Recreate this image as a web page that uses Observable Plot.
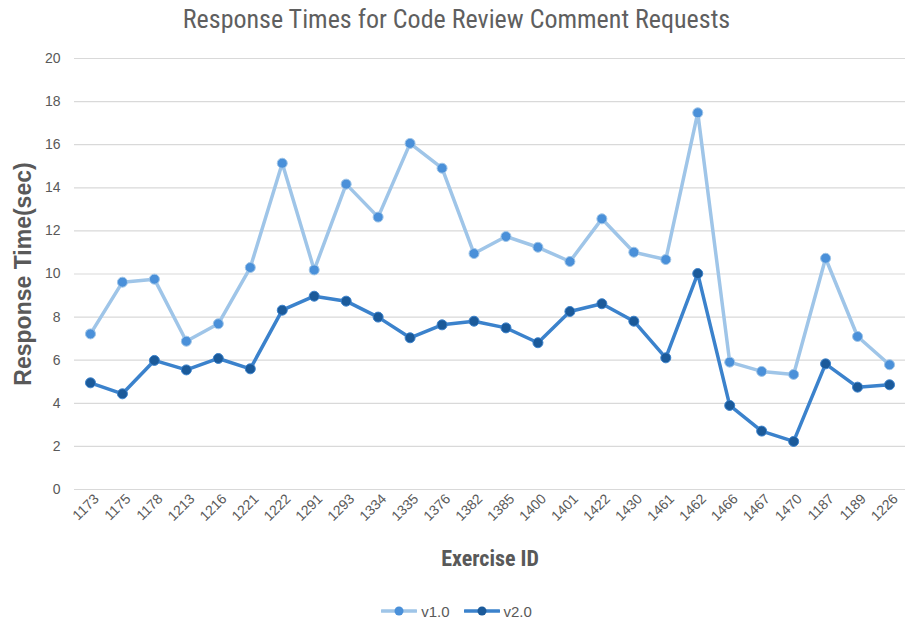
<!DOCTYPE html>
<html>
<head>
<meta charset="utf-8">
<script src="https://cdn.jsdelivr.net/npm/d3@7"></script>
<script src="https://cdn.jsdelivr.net/npm/@observablehq/plot@0.6"></script>
<style>
  html, body { margin: 0; padding: 0; background: #fff; }
  body { width: 913px; height: 631px; overflow: hidden; font-family: "Liberation Sans", Arial, sans-serif; }
  #title { height: 38px; line-height: 38px; text-align: center; font-family: "Liberation Sans Narrow", "Roboto Condensed", Roboto, sans-serif; font-size: 26px; color: #5f5f5f; font-stretch: condensed; }
  #chart svg { display: block; }
  #chart [aria-label="y-axis label"] text { font-size: 23px; font-weight: bold; fill: #595959; font-family: "Liberation Sans", Arial, sans-serif; }
  #chart [aria-label="x-axis label"] text { font-size: 22px; font-weight: bold; fill: #595959; font-family: "Liberation Sans Narrow", "Roboto Condensed", Roboto, sans-serif; }
  #legend { height: 40px; padding-top: 16px; display: flex; justify-content: center; align-items: center; gap: 14px; font-size: 15px; color: #595959; }
  .item { display: flex; align-items: center; gap: 4px; }
</style>
</head>
<body>
<div id="title">Response Times for Code Review Comment Requests</div>
<div id="chart"></div>
<div id="legend"></div>
<script>
const exerciseIds = ["1173","1175","1178","1213","1216","1221","1222","1291","1293","1334","1335","1376","1382","1385","1400","1401","1422","1430","1461","1462","1466","1467","1470","1187","1189","1226"];
const v1Values = [7.22,9.62,9.76,6.88,7.69,10.30,15.14,10.19,14.17,12.64,16.06,14.91,10.95,11.74,11.24,10.58,12.56,11.01,10.67,17.48,5.91,5.48,5.34,10.73,7.10,5.79];
const v2Values = [4.95,4.44,5.99,5.55,6.08,5.60,8.32,8.97,8.74,8.00,7.04,7.64,7.81,7.50,6.81,8.26,8.62,7.81,6.11,10.02,3.90,2.71,2.23,5.83,4.75,4.86];
const seriesNames = ["v1.0", "v2.0"];
const yTicks = [0,2,4,6,8,10,12,14,16,18,20];

const lineColors = {"v1.0": "#9fc5e8", "v2.0": "#3b82cc"};
const dotColors = {"v1.0": "#4a90d9", "v2.0": "#1b5a9a"};

const rows = [];
seriesNames.forEach((s, si) => {
  const vals = si === 0 ? v1Values : v2Values;
  exerciseIds.forEach((id, i) => rows.push({id, value: vals[i], series: s}));
});

const chart = Plot.plot({
  width: 913,
  height: 537,
  marginTop: 20,
  marginBottom: 86,
  marginLeft: 74,
  marginRight: 8,
  style: {fontFamily: "'Liberation Sans', Arial, sans-serif", fontSize: "14px", color: "#595959", background: "#fff"},
  x: {type: "point", domain: exerciseIds, padding: 0.5, round: false},
  y: {domain: [0, 20]},
  marks: [
    Plot.ruleY(yTicks, {stroke: "#d9d9d9", strokeWidth: 1.2}),
    Plot.axisY({ticks: yTicks, tickSize: 0, tickPadding: 14, fontSize: 14, label: "Response Time(sec)", labelAnchor: "center", labelOffset: 60, labelArrow: "none"}),
    Plot.axisX({tickSize: 0, tickPadding: 7, tickRotate: -45, fontSize: 14, label: "Exercise ID", labelAnchor: "center", labelOffset: 76, labelArrow: "none", dx: 6}),
    ...seriesNames.map(s => Plot.line(rows.filter(r => r.series === s), {x: "id", y: "value", stroke: lineColors[s], strokeWidth: 3.5, strokeLinejoin: "round", strokeLinecap: "round"})),
    ...seriesNames.map(s => Plot.dot(rows.filter(r => r.series === s), {x: "id", y: "value", fill: dotColors[s], stroke: lineColors[s], strokeWidth: 1, r: 5}))
  ]
});
document.getElementById("chart").appendChild(chart);

const legend = document.getElementById("legend");
seriesNames.forEach(s => {
  const item = document.createElement("div");
  item.className = "item";
  item.innerHTML = `<svg width="36" height="12"><line x1="1" y1="6" x2="35" y2="6" stroke="${lineColors[s]}" stroke-width="3.5" stroke-linecap="round"/><circle cx="18" cy="6" r="4.5" fill="${dotColors[s]}"/></svg><span>${s}</span>`;
  legend.appendChild(item);
});
</script>
</body>
</html>
